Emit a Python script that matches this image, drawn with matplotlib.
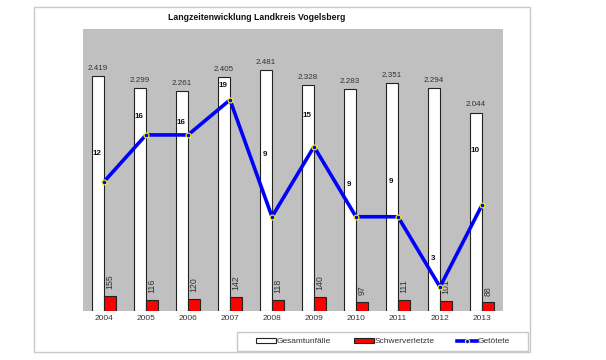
import matplotlib as mpl
import matplotlib.pyplot as plt
import numpy as np
from matplotlib.lines import Line2D
from matplotlib.patches import Patch, Rectangle

mpl.rcParams.update({
    "font.family": ["Liberation Sans", "DejaVu Sans"],
    "font.size": 6,
})

# data
years = ["2004", "2005", "2006", "2007", "2008",
         "2009", "2010", "2011", "2012", "2013"]
gesamt = [2419, 2299, 2261, 2405, 2481, 2328, 2283, 2351, 2294, 2044]
schwer = [155, 116, 120, 142, 118, 140, 97, 111, 101, 88]
getoetet = [12, 16, 16, 19, 9, 15, 9, 9, 3, 10]

# where Excel dropped the Getötete labels (secondary-axis units)
label_y = [14.4, 17.6, 17.1, 20.2, 14.3, 17.7, 11.8, 12.0, 5.4, 14.7]

W, H = 606, 360
fig = plt.figure(figsize=(W / 100, H / 100), dpi=100)

# outer chart frame
fig.patches.append(Rectangle((34 / W, 8 / H), 496 / W, 345 / H,
                             transform=fig.transFigure, fill=False,
                             edgecolor="#c8c8c8", lw=1.0))
# legend box
fig.patches.append(Rectangle((237 / W, 9 / H), 291 / W, 19 / H,
                             transform=fig.transFigure, fill=False,
                             edgecolor="#c8c8c8", lw=1.0))

ax = fig.add_axes([83 / W, 49 / H, 420 / W, 282 / H])
ax.set_facecolor("#c0c0c0")
for s in ax.spines.values():
    s.set_visible(False)

x = np.arange(len(years))
bw = 0.28
ax.bar(x - bw / 2, gesamt, bw, color="white", edgecolor="#222222", lw=0.8)
ax.bar(x + bw / 2, schwer, bw, color="#ff0000", edgecolor="#222222", lw=0.8)
ax.set_xlim(-0.5, len(years) - 0.5)
ax.set_ylim(0, 2904)
ax.set_yticks([])
ax.set_xticks(x)
ax.set_xticklabels(years, color="#333333", fontsize=6)
ax.tick_params(axis="x", length=0, pad=3)

for xi, v in zip(x, gesamt):
    ax.annotate(f"{v:,}".replace(",", "."), (xi - bw / 2, v),
                xytext=(0, 3), textcoords="offset points",
                ha="center", va="bottom", fontsize=5.8, color="#333333")
for xi, v in zip(x, schwer):
    ax.annotate(str(v), (xi + bw / 2, v),
                xytext=(0, 5), textcoords="offset points",
                ha="center", va="bottom", rotation=90,
                fontsize=6.3, color="#333333")

ax2 = ax.twinx()
ax2.set_ylim(0.94, 25.06)
ax2.set_yticks([])
for s in ax2.spines.values():
    s.set_visible(False)
ax2.plot(x, getoetet, color="#0000ff", lw=2.6, marker="o", ms=3.5,
         mfc="#0000ff", mec="#ffff00", mew=0.8, zorder=3)
for xi, ly, v in zip(x, label_y, getoetet):
    ax2.text(xi - 0.17, ly, str(v), ha="center", va="center",
             fontsize=5.8, fontweight="bold", color="#111111")

fig.text(257 / W, 342 / H, "Langzeitenwicklung Landkreis Vogelsberg",
         ha="center", va="center", fontsize=6.3, fontweight="bold",
         color="#111111")

handles = [
    Patch(facecolor="white", edgecolor="#222222", lw=0.8),
    Patch(facecolor="#ff0000", edgecolor="#222222", lw=0.8),
    Line2D([], [], color="#0000ff", lw=2.6, marker="o", ms=3,
           mfc="#0000ff", mec="#ffff00", mew=0.8),
]
fig.legend(handles, ["Gesamtunfälle", "Schwerverletzte", "Getötete"],
           loc="center", bbox_to_anchor=(383 / W, 18.5 / H),
           ncol=3, frameon=False, fontsize=6,
           handlelength=2.4, handleheight=0.5, handletextpad=0.1,
           columnspacing=2.7, borderpad=0, labelcolor="#333333")

fig.savefig("out.png", dpi=100)
